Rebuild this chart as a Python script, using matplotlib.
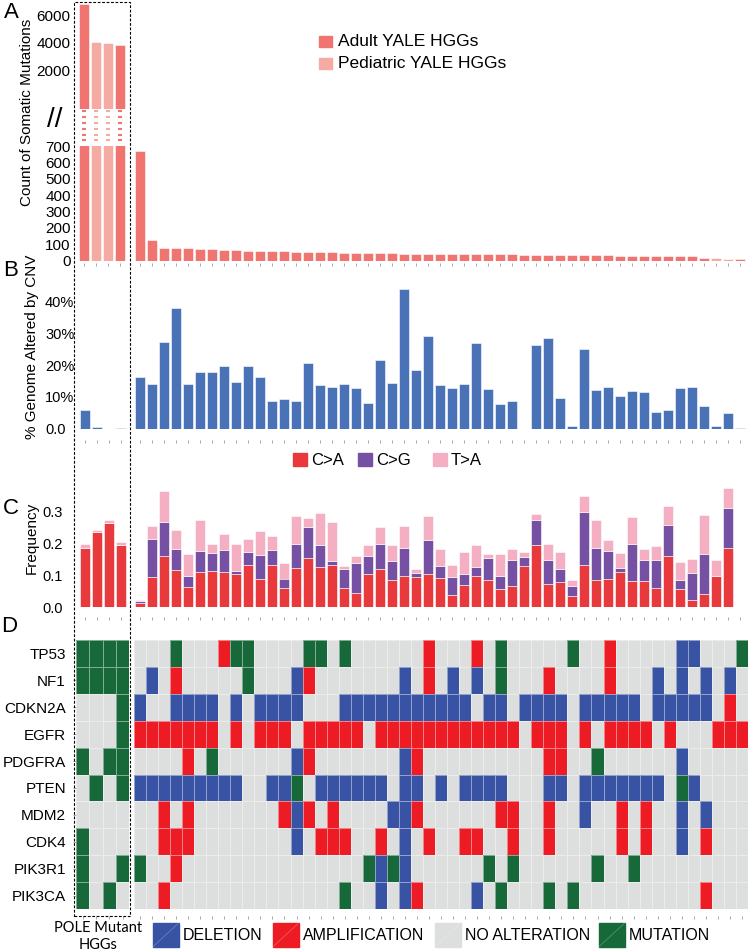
import numpy as np
import matplotlib
matplotlib.use('Agg')
import matplotlib.pyplot as plt
from matplotlib.patches import Rectangle
from matplotlib.lines import Line2D
from matplotlib.colors import ListedColormap

plt.rcParams['font.family'] = ['Liberation Sans', 'DejaVu Sans']

# ---------------- data ----------------
pole_mut = [6800, 4090, 4000, 3880]
pole_group = ['Adult', 'Pediatric', 'Pediatric', 'Adult']
main_mut = [667, 123, 78, 78, 76, 68, 68, 65, 63, 57, 57, 57, 57, 53, 53, 51, 51,
            47, 47, 47, 43, 43, 41, 41, 39, 39, 39, 39, 37, 37, 37, 37, 35, 35,
            33, 33, 33, 31, 31, 31, 29, 29, 29, 29, 27, 25, 25, 18, 16, 10, 8]
main_group = ['Adult'] * 48 + ['Pediatric', 'Pediatric', 'Adult']

pole_cnv = [5.8, 0.6, 0.0, 0.3]
main_cnv = [16.4, 14.0, 27.2, 38.0, 14.2, 17.7, 17.9, 19.6, 14.7, 19.6,
            16.2, 8.6, 9.2, 8.7, 20.7, 13.7, 13.1, 14.2, 12.9, 8.2,
            21.6, 14.5, 43.9, 18.5, 29.1, 13.6, 12.8, 13.9, 26.8, 12.5,
            7.7, 8.6, np.nan, 26.2, 28.4, 9.6, 1.0, 25.1, 12.1, 13.0,
            10.2, 11.9, 11.5, 5.1, 5.8, 12.7, 13.1, 7.1, 0.9, 4.9, 0.2]

pole_ca = [0.186, 0.234, 0.264, 0.195]
pole_cg = [0.0, 0.0, 0.0, 0.0]
pole_ta = [0.011, 0.008, 0.008, 0.009]
main_ca = [0.013, 0.094, 0.160, 0.118, 0.063, 0.109, 0.114, 0.110, 0.105, 0.133,
           0.087, 0.133, 0.060, 0.124, 0.155, 0.127, 0.133, 0.060, 0.044, 0.104,
           0.120, 0.085, 0.098, 0.096, 0.104, 0.091, 0.039, 0.070, 0.098, 0.084,
           0.056, 0.067, 0.129, 0.194, 0.074, 0.079, 0.034, 0.132, 0.085, 0.088,
           0.109, 0.082, 0.082, 0.060, 0.159, 0.057, 0.022, 0.042, 0.099, 0.186, 0.0]
main_cg = [0.007, 0.119, 0.108, 0.064, 0.034, 0.066, 0.057, 0.069, 0.009, 0.041,
           0.076, 0.045, 0.030, 0.075, 0.095, 0.069, 0.013, 0.059, 0.096, 0.055,
           0.078, 0.061, 0.086, 0.011, 0.106, 0.038, 0.055, 0.034, 0.028, 0.070,
           0.042, 0.082, 0.029, 0.079, 0.075, 0.040, 0.034, 0.166, 0.101, 0.087,
           0.015, 0.117, 0.067, 0.089, 0.098, 0.028, 0.086, 0.124, 0.0, 0.124, 0.0]
main_ta = [0.002, 0.042, 0.096, 0.060, 0.069, 0.098, 0.028, 0.050, 0.085, 0.040,
           0.075, 0.044, 0.050, 0.086, 0.029, 0.098, 0.122, 0.011, 0.019, 0.035,
           0.053, 0.048, 0.071, 0.012, 0.075, 0.052, 0.037, 0.069, 0.070, 0.014,
           0.070, 0.033, 0.014, 0.019, 0.049, 0.053, 0.016, 0.049, 0.087, 0.034,
           0.047, 0.082, 0.034, 0.044, 0.061, 0.058, 0.044, 0.124, 0.050, 0.062, 0.0]

genes = ['TP53', 'NF1', 'CDKN2A', 'EGFR', 'PDGFRA', 'PTEN', 'MDM2', 'CDK4', 'PIK3R1', 'PIK3CA']
# '.' none, 'D' deletion, 'A' amplification, 'M' mutation
pole_alt = ['MMMM', 'MMMM', '...M', '...M', 'M.MM', '.M.M', '....', 'M...', 'M..M', 'M.M.']
main_alt = [
    '...M...AMM' '....MM.M..' '....A...A.' 'M.....M..A' '.....DD...M',
    '.D.A.....M' '...DA.....' '..D.A.D.D.' 'M...A....A' '...D.D.D.D.',
    'D..DDDD.D.' 'DDDD...DDD' 'DDDDDDDD.D' 'D.DDDD.DDD' 'DD.DDDDD.A.',
    'AAAAAAA.A.' 'AAA.AAAAA.' 'AAAAAAAAAA' 'AA.AAA.A.A' 'AAA.A...AAA',
    '....A.M...' '...DA.....' '..DA......' '....AA..M.' '.....D.....',
    'DDDDDDDDD.' '.DDM.DDDDD' 'D.DD.D.DDD' 'D...DD.DDD' 'DDDD.MD....',
    '..A.A.....' '..ADA.A...' '.DDA......' 'AA..A..D..' 'A.A..D.D...',
    '..AAA.....' '...D.AAA..' 'A.D.A..AA.' '.A..A.....' 'A.A..D.A...',
    'M..A......' '.........M' 'DMD......M' '.M......M.' '.M.........',
    '..A.......' '.......M..' 'D.DA....D.' 'M...M.M...' '.......A...',
]
alt_codes = {'.': 0, 'D': 1, 'A': 2, 'M': 3}
alt_labels = ['DELETION', 'AMPLIFICATION', 'NO ALTERATION', 'MUTATION']

# ---------------- styles ----------------
W, H = 750, 952
C_ADULT = '#F07571'
C_PED = '#F5ABA2'
C_CNV = '#4A72B6'
C_CA = '#E8393C'
C_CG = '#7650A2'
C_TA = '#F5AFC2'
C_NONE = '#DDDEDE'
C_DEL = '#3953A4'
C_AMP = '#ED1C24'
C_MUT = '#17693A'
TICKC = '#9a9a9a'

fig = plt.figure(figsize=(W / 100, H / 100), dpi=100)


def ax_px(x0, y0, x1, y1):
    return fig.add_axes([x0 / W, 1 - y1 / H, (x1 - x0) / W, (y1 - y0) / H])


def fx(x):
    return x / W


def fy(y):
    return 1 - y / H


def clean(ax, n, xtick_out=None):
    for s in ax.spines.values():
        s.set_visible(False)
    ax.set_xlim(-0.5, n - 0.5)
    if xtick_out is None:
        ax.set_xticks([])
    else:
        ax.spines['bottom'].set_position(('outward', xtick_out))
        ax.set_xticks(np.arange(n))
        ax.set_xticklabels([])
        ax.tick_params(axis='x', length=2.2, width=0.6, color=TICKC)
    ax.patch.set_alpha(0)


grp_col = {'Adult': C_ADULT, 'Pediatric': C_PED}
POLE_X0, POLE_X1 = 78, 126
MAIN_X0, MAIN_X1 = 134, 746
n_main = len(main_mut)
n_pole = len(pole_mut)
xp = np.arange(n_pole)
xm = np.arange(n_main)

# ---------------- Panel A ----------------
UP_LIM = (-750, 6935)
axA_up = ax_px(POLE_X0, 2, POLE_X1, 109)
axA_up.bar(xp, np.array(pole_mut) - UP_LIM[0], bottom=UP_LIM[0], width=0.9,
           color=[grp_col[g] for g in pole_group], edgecolor='white', linewidth=0.4)
clean(axA_up, n_pole)
axA_up.set_ylim(*UP_LIM)
axA_up.set_yticks([2000, 4000, 6000])
axA_up.tick_params(axis='y', length=0, pad=5.3, labelsize=11)

axA_br = ax_px(POLE_X0, 109, POLE_X1, 146)
levels = np.linspace(0.15, 0.95, 6)
for i, g in enumerate(pole_group):
    axA_br.hlines(levels, i - 0.2, i + 0.2, color=grp_col[g], lw=1.5)
clean(axA_br, n_pole)
axA_br.set_ylim(0, 1)
axA_br.set_yticks([])

axA_lo = ax_px(POLE_X0, 146, POLE_X1, 260.5)
axA_lo.bar(xp, pole_mut, width=0.9, color=[grp_col[g] for g in pole_group],
           edgecolor='white', linewidth=0.4)
clean(axA_lo, n_pole, xtick_out=2)
axA_lo.set_ylim(0, 700)
axA_lo.set_yticks(np.arange(0, 701, 100))
axA_lo.tick_params(axis='y', length=0, pad=5.3, labelsize=11)

axA_m = ax_px(MAIN_X0, 146, MAIN_X1, 260.5)
axA_m.bar(xm, main_mut, width=0.9, color=[grp_col[g] for g in main_group],
          edgecolor='white', linewidth=0.4)
clean(axA_m, n_main, xtick_out=2)
axA_m.set_ylim(0, 700)
axA_m.set_yticks([])

fig.text(fx(55), fy(120), '//', fontsize=20, ha='center', va='center')
fig.text(fx(26.7), fy(112.5), 'Count of Somatic Mutations', rotation=90,
         ha='center', va='center', fontsize=11)
for i, (lab, c) in enumerate([('Adult YALE HGGs', C_ADULT), ('Pediatric YALE HGGs', C_PED)]):
    fig.add_artist(Rectangle((fx(319), fy(47 + 21.5 * i)), 13 / W, 11 / H,
                             transform=fig.transFigure, color=c))
    fig.text(fx(338), fy(41.5 + 21.5 * i), lab, va='center', ha='left', fontsize=12.5)

# ---------------- Panel B ----------------
B_TOP, B_BOT = 285.6, 428.7
axB_p = ax_px(79, B_TOP, 127, B_BOT)
axB_p.bar(xp, pole_cnv, width=0.9, color=C_CNV, edgecolor='white', linewidth=0.4)
clean(axB_p, n_pole, xtick_out=8)
axB_p.set_ylim(0, 45)
axB_p.set_yticks([0, 10, 20, 30, 40])
axB_p.set_yticklabels(['0.0', '10%', '20%', '30%', '40%'])
axB_p.tick_params(axis='y', length=0, pad=24.5, labelsize=10.5)
for lbl in axB_p.get_yticklabels():
    lbl.set_horizontalalignment('left')

axB_m = ax_px(MAIN_X0, B_TOP, MAIN_X1, B_BOT)
axB_m.bar(xm, np.nan_to_num(main_cnv), width=0.88, color=C_CNV, edgecolor='white', linewidth=0.4)
clean(axB_m, n_main, xtick_out=8)
axB_m.set_ylim(0, 45)
axB_m.set_yticks([])
fig.text(fx(32), fy(347), '% Genome Altered by CNV', rotation=90,
         ha='center', va='center', fontsize=11)

# ---------------- Panel C ----------------
C_TOP, C_BOT = 485.7, 607.3
axC_p = ax_px(79, C_TOP, 127, C_BOT)
axC_m = ax_px(MAIN_X0, C_TOP, MAIN_X1, C_BOT)
for ax, ca, cg, ta, n in [(axC_p, pole_ca, pole_cg, pole_ta, n_pole),
                          (axC_m, main_ca, main_cg, main_ta, n_main)]:
    x = np.arange(n)
    ca, cg, ta = map(np.array, (ca, cg, ta))
    ax.bar(x, ca, width=0.88, color=C_CA, edgecolor='white', linewidth=0.4)
    ax.bar(x, cg, bottom=ca, width=0.88, color=C_CG, edgecolor='white', linewidth=0.4)
    ax.bar(x, ta, bottom=ca + cg, width=0.88, color=C_TA, edgecolor='white', linewidth=0.4)
    clean(ax, n, xtick_out=7)
    ax.set_ylim(0, 0.38)
axC_p.set_yticks([0, 0.1, 0.2, 0.3])
axC_p.set_yticklabels(['0.0', '0.1', '0.2', '0.3'])
axC_p.tick_params(axis='y', length=0, pad=11.5, labelsize=10.5)
axC_m.set_yticks([])
fig.text(fx(32), fy(538), 'Frequency', rotation=90, ha='center', va='center', fontsize=11)
for lab, c, x0 in [('C>A', C_CA, 293), ('C>G', C_CG, 358), ('T>A', C_TA, 433)]:
    fig.add_artist(Rectangle((fx(x0), fy(466)), 14 / W, 13 / H,
                             transform=fig.transFigure, color=c))
    fig.text(fx(x0 + 18), fy(460), lab, va='center', ha='left', fontsize=12)

# ---------------- Panel D ----------------
cmap = ListedColormap([C_NONE, C_DEL, C_AMP, C_MUT])
D_TOP, D_BOT = 640, 909
pole_mat = np.array([[alt_codes[ch] for ch in row] for row in pole_alt])
main_mat = np.array([[alt_codes[ch] for ch in row] for row in main_alt])

axD_p = ax_px(76, D_TOP, 129.3, D_BOT)
axD_m = ax_px(MAIN_X0, D_TOP, 748, D_BOT)
for ax, mat in [(axD_p, pole_mat), (axD_m, main_mat)]:
    ax.pcolormesh(np.arange(mat.shape[1] + 1) - 0.5, np.arange(mat.shape[0] + 1) - 0.5,
                  mat, cmap=cmap, vmin=-0.5, vmax=3.5,
                  edgecolors=(1, 1, 1, 0.45), linewidth=0.4)
    clean(ax, mat.shape[1], xtick_out=5)
    ax.set_ylim(mat.shape[0] - 0.5, -0.5)
axD_p.set_yticks(np.arange(len(genes)))
axD_p.set_yticklabels(genes)
axD_p.tick_params(axis='y', length=2.2, width=0.6, color=TICKC, pad=5, labelsize=11)
axD_m.set_yticks([])

# bottom legend
leg_cols = [C_DEL, C_AMP, C_NONE, C_MUT]
for lab, c, x0 in zip(alt_labels, leg_cols, [153, 273, 435, 599]):
    fig.add_artist(Rectangle((fx(x0), fy(946.7)), 26 / W, 24 / H,
                             transform=fig.transFigure, color=c))
    fig.add_artist(Line2D([fx(x0), fx(x0 + 26)], [fy(946.7), fy(922.7)],
                          transform=fig.transFigure, color='white', alpha=0.25, lw=0.6))
    fig.text(fx(x0 + 30), fy(935), lab, va='center', ha='left', fontsize=11.5)
fig.text(fx(98.5), fy(936.5), 'POLE Mutant\nHGGs', ha='center', va='center',
         fontsize=10.5, family=['Lato', 'DejaVu Sans'], linespacing=1.25)

# panel letters
for lab, x, y in [('A', 11, 12.5), ('B', 11, 271), ('C', 11, 509), ('D', 9, 626)]:
    fig.text(fx(x), fy(y), lab, ha='center', va='center', fontsize=16)

# dashed POLE box
fig.add_artist(Rectangle((fx(74), fy(916)), 56 / W, 914 / H, transform=fig.transFigure,
                         fill=False, ec='black', lw=0.8, ls=(0, (2.5, 1.5))))

fig.savefig('out.png', dpi=100)
